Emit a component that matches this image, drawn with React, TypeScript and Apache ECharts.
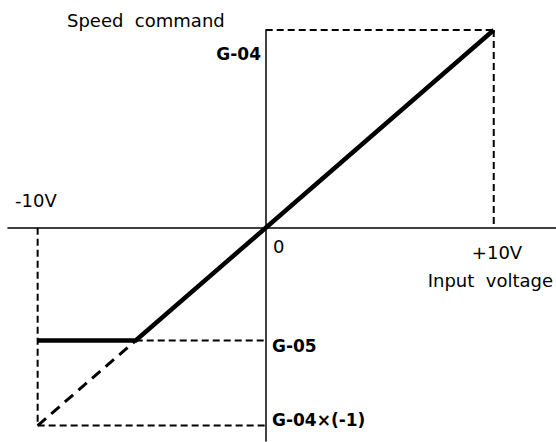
import React, { useEffect, useRef } from "react";
import * as echarts from "echarts";

// Input voltage (V) and speed command (% of G-04)
const inputVoltage = [-10, 0, 10];
const G04 = 100;
const G05 = -57;
const kneeVoltage = (G05 / G04) * 10; // where the ramp meets G-05

const solidLine = [
  [inputVoltage[0], G05],
  [kneeVoltage, G05],
  [inputVoltage[2], G04],
];
const dashedRamp = [
  [inputVoltage[0], -G04],
  [kneeVoltage, G05],
];
const dashedGuides = [
  [[inputVoltage[0], 0], [inputVoltage[0], -G04]],
  [[inputVoltage[0], -G04], [inputVoltage[1], -G04]],
  [[kneeVoltage, G05], [inputVoltage[1], G05]],
  [[inputVoltage[1], G04], [inputVoltage[2], G04]],
  [[inputVoltage[2], G04], [inputVoltage[2], 0]],
];

const labels = {
  yName: "Speed  command",
  xName: "Input  voltage",
  g04: "G-04",
  g05: "G-05",
  g04neg: "G-04×(-1)",
  minus10: "-10V",
  plus10: "+10V",
  zero: "0",
};

export default function App() {
  const ref = useRef<HTMLDivElement>(null);
  useEffect(() => {
    if (!ref.current) return;
    const chart = echarts.init(ref.current, undefined, { renderer: "svg" });
    const font = "DejaVu Sans";
    const txt = (
      text: string,
      x: number,
      y: number,
      align: string,
      bold = false,
      size = 18
    ) => ({
      type: "text",
      x,
      y,
      style: {
        text,
        fontFamily: font,
        fontSize: size,
        fontWeight: bold ? "bold" : "normal",
        fill: "#000",
        align,
        verticalAlign: "middle",
        whiteSpace: "pre",
      },
    });
    const dashStyle = { color: "#000", width: 2, type: [7, 4] as any };
    chart.setOption({
      animation: false,
      backgroundColor: "#fff",
      grid: { left: 8, right: 0, top: 30, bottom: 1 },
      xAxis: {
        type: "value",
        min: -11.3,
        max: 12.73,
        axisLine: { show: true, onZero: true, lineStyle: { color: "#000", width: 1.5 } },
        axisTick: { show: false },
        axisLabel: { show: false },
        splitLine: { show: false },
      },
      yAxis: {
        type: "value",
        min: -107.8,
        max: 100,
        axisLine: { show: true, onZero: true, lineStyle: { color: "#000", width: 1.5 } },
        axisTick: { show: false },
        axisLabel: { show: false },
        splitLine: { show: false },
      },
      series: [
        ...dashedGuides.map((d) => ({
          type: "line",
          data: d,
          symbol: "none",
          lineStyle: dashStyle,
          silent: true,
        })),
        {
          type: "line",
          data: dashedRamp,
          symbol: "none",
          lineStyle: { color: "#000", width: 3, type: [11, 7] as any },
        },
        {
          type: "line",
          data: solidLine,
          symbol: "none",
          lineStyle: { color: "#000", width: 4.5, cap: "butt", join: "miter" },
          z: 5,
        },
      ],
      graphic: [
        txt(labels.yName, 67, 20, "left"),
        txt(labels.g04, 261, 53.5, "right", true, 17),
        txt(labels.minus10, 15, 200, "left"),
        txt(labels.zero, 273, 246, "left"),
        txt(labels.plus10, 497, 252, "center"),
        txt(labels.xName, 553, 280, "right"),
        txt(labels.g05, 272, 345.5, "left", true, 17),
        txt(labels.g04neg, 272, 419.5, "left", true, 17),
      ],
    });
    return () => chart.dispose();
  }, []);
  return (
    <div
      ref={ref}
      style={{ position: "fixed", left: 0, top: 0, width: 556, height: 442, background: "#fff" }}
    />
  );
}
